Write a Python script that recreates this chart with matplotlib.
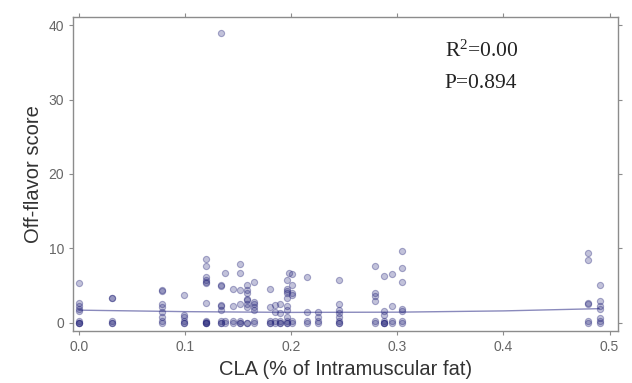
import matplotlib
matplotlib.use("Agg")
import matplotlib.pyplot as plt
import numpy as np

plt.rcParams["mathtext.fontset"] = "custom"
plt.rcParams["mathtext.rm"] = "Liberation Serif"
plt.rcParams["mathtext.it"] = "Liberation Serif:italic"

# CLA level (% of intramuscular fat) and off-flavor scores observed at each level
cla_levels = [0.0, 0.031, 0.078, 0.099, 0.120, 0.134, 0.138, 0.145, 0.152, 0.158,
              0.165, 0.180, 0.185, 0.189, 0.196, 0.198, 0.201, 0.215, 0.225, 0.245,
              0.279, 0.287, 0.295, 0.304, 0.480, 0.491]
off_flavor = [
    [5.3, 2.7, 2.3, 1.8, 1.6, 0, 0, 0, 0.2],
    [3.4, 3.3, 0, 0, 0.2],
    [4.4, 4.3, 2.5, 2.1, 1.5, 0.8, 0, 0.2],
    [3.75, 1.1, 0.8, 0, 0, 0.2],
    [8.6, 7.6, 6.2, 5.7, 5.5, 5.4, 2.7, 0, 0, 0, 0.2, 0.1],
    [39.0, 5.1, 5.0, 2.4, 2.3, 1.7, 0, 0, 0.2],
    [6.7, 0, 0.2],
    [4.5, 2.2, 0, 0.2],
    [7.9, 6.7, 4.4, 2.5, 0, 0, 0.2],
    [5.1, 4.4, 4.0, 3.2, 3.1, 2.5, 2.1, 0, 0],
    [5.5, 2.8, 2.5, 2.1, 1.7, 0, 0.2],
    [4.6, 2.1, 0, 0, 0.2],
    [2.4, 1.4, 0, 0.2],
    [2.5, 1.3, 0, 0, 0.2],
    [5.8, 4.6, 4.3, 4.0, 3.3, 2.3, 1.7, 0.8, 0, 0, 0.2],
    [6.75],
    [6.6, 5.1, 4.0, 3.8, 0, 0.2],
    [6.2, 1.4, 0, 0.2],
    [1.4, 0.8, 0, 0.2],
    [5.8, 2.5, 1.7, 1.3, 0.8, 0, 0, 0.2],
    [7.6, 4.0, 3.6, 2.9, 0, 0.2],
    [6.3, 1.6, 1.1, 0, 0, 0, 0.2],
    [6.5, 2.3, 0, 0.2],
    [9.6, 7.3, 5.5, 1.9, 1.6, 0, 0.2],
    [9.4, 8.4, 2.6, 2.5, 0, 0.2],
    [5.1, 2.9, 2.3, 1.8, 0.6, 0.3, 0],
]

# fitted curve
fit_x = [0.0, 0.1, 0.2, 0.3, 0.4, 0.49]
fit_y = [1.7, 1.5, 1.4, 1.43, 1.6, 1.9]

x_ticks = [0.0, 0.1, 0.2, 0.3, 0.4, 0.5]
y_ticks = [0, 10, 20, 30, 40]
r2_text = r"R$^{2}$=0.00"
p_text = "P=0.894"

xs = np.concatenate([[lvl] * len(v) for lvl, v in zip(cla_levels, off_flavor)])
ys = np.concatenate(off_flavor)

fig = plt.figure(figsize=(6.32, 3.83), dpi=100)
ax = fig.add_axes([0.1155, 0.1358, 0.8625, 0.8198])

ax.scatter(xs, ys, s=20, facecolor=(0.15, 0.15, 0.48, 0.28),
           edgecolor=(0.15, 0.15, 0.48, 0.36), linewidth=0.8, zorder=3)
ax.plot(fit_x, fit_y, color="#8a8abc", lw=1.0, zorder=2)

ax.set_xlim(-0.0057, 0.508)
ax.set_ylim(-1.1, 41.1)
ax.set_xticks(x_ticks)
ax.set_yticks(y_ticks)
ax.set_xticklabels([f"{t:.1f}" for t in x_ticks])

for s in ax.spines.values():
    s.set_color("#8c8c8c")
    s.set_linewidth(1.0)
ax.tick_params(axis="both", which="both", direction="out", length=3, width=0.8,
               color="#8c8c8c", labelcolor="#666666", labelsize=10,
               top=True, right=True, labeltop=False, labelright=False)
for lab in ax.get_xticklabels() + ax.get_yticklabels():
    lab.set_family("Liberation Sans")

ax.set_xlabel("CLA (% of Intramuscular fat)", family="Liberation Sans",
              fontsize=14.5, color="#333333", labelpad=4)
ax.set_ylabel("Off-flavor score", family="Liberation Sans",
              fontsize=14.5, color="#333333", labelpad=4)

ax.text(0.3446, 35.7, r2_text, family="Liberation Serif", fontsize=15.5,
        color="#222222", va="baseline", ha="left")
ax.text(0.3446, 31.5, p_text, family="Liberation Serif", fontsize=15.5,
        color="#222222", va="baseline", ha="left")

fig.savefig("out.png", dpi=100)
